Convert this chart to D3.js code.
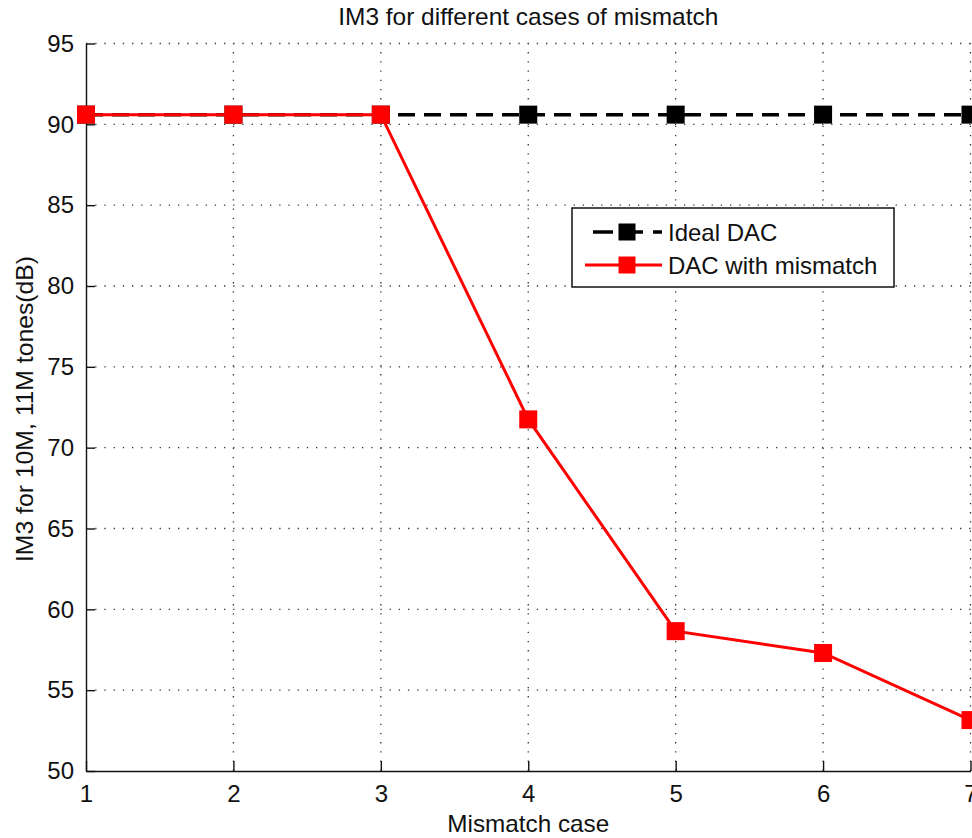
<!DOCTYPE html>
<html><head><meta charset="utf-8">
<script src="https://cdn.jsdelivr.net/npm/d3@7"></script>
<style>
html,body{margin:0;padding:0;background:#fff;}
svg{display:block;}
text{font-family:"Liberation Sans",Arial,sans-serif;fill:#111;}
</style></head>
<body>
<svg id="chart" width="972" height="838"></svg>
<script>
const cases = [1, 2, 3, 4, 5, 6, 7];
const idealDAC = [90.6, 90.6, 90.6, 90.6, 90.6, 90.6, 90.6];
const mismatchDAC = [90.6, 90.6, 90.6, 71.75, 58.65, 57.3, 53.15];
const xTicks = [1, 2, 3, 4, 5, 6, 7];
const yTicks = [50, 55, 60, 65, 70, 75, 80, 85, 90, 95];
const titleText = "IM3 for different cases of mismatch";
const xLabel = "Mismatch case";
const yLabel = "IM3 for 10M, 11M tones(dB)";
const seriesNames = ["Ideal DAC", "DAC with mismatch"];

const svg = d3.select("#chart");
const L = 86, R = 970.5, T = 43.5, B = 771;
const x = d3.scaleLinear().domain([1, 7]).range([L, R]);
const y = d3.scaleLinear().domain([50, 95]).range([B, T]);

// grid
const grid = svg.append("g").attr("stroke", "#333").attr("stroke-width", 1.3).attr("stroke-dasharray", "1.3,7.9");
grid.selectAll(".gx").data(xTicks.filter(d => d !== 1)).enter().append("line")
  .attr("x1", d => x(d)).attr("x2", d => x(d)).attr("y1", B).attr("y2", T);
grid.selectAll(".gy").data(yTicks.filter(d => d !== 50)).enter().append("line")
  .attr("y1", d => y(d)).attr("y2", d => y(d)).attr("x1", L).attr("x2", R + 2);

// axes
const xAxis = d3.axisBottom(x).tickValues(xTicks).tickSizeInner(-10).tickSizeOuter(0).tickPadding(14).tickFormat(d3.format("d"));
const yAxis = d3.axisLeft(y).tickValues(yTicks).tickSizeInner(-9).tickSizeOuter(0).tickPadding(12).tickFormat(d3.format("d"));
const gx = svg.append("g").attr("transform", `translate(0,${B})`).call(xAxis);
const gy = svg.append("g").attr("transform", `translate(${L},0)`).call(yAxis);
[gx, gy].forEach(g => {
  g.select(".domain").attr("stroke", "#111").attr("stroke-width", 1.4);
  g.selectAll(".tick line").attr("stroke", "#111").attr("stroke-width", 1.4);
  g.selectAll(".tick text").attr("font-size", 24).attr("font-family", "Liberation Sans, Arial, sans-serif").attr("fill", "#111");
});
gx.selectAll(".tick text").attr("dy", "0.71em");

// series
const line = d3.line().x(d => x(d[0])).y(d => y(d[1]));
const idealPts = cases.map((c, i) => [c, idealDAC[i]]);
const misPts = cases.map((c, i) => [c, mismatchDAC[i]]);
const ms = 18;

svg.append("path").datum(idealPts).attr("d", line).attr("fill", "none")
  .attr("stroke", "#000").attr("stroke-width", 3.5).attr("stroke-dasharray", "17,9");
svg.append("g").selectAll("rect").data(idealPts).enter().append("rect")
  .attr("x", d => x(d[0]) - ms / 2).attr("y", d => y(d[1]) - ms / 2)
  .attr("width", ms).attr("height", ms).attr("fill", "#000");

svg.append("path").datum(misPts).attr("d", line).attr("fill", "none")
  .attr("stroke", "#ff0000").attr("stroke-width", 3);
svg.append("g").selectAll("rect").data(misPts).enter().append("rect")
  .attr("x", d => x(d[0]) - ms / 2).attr("y", d => y(d[1]) - ms / 2)
  .attr("width", ms).attr("height", ms).attr("fill", "#ff0000");

// title and labels
svg.append("text").attr("x", (L + R) / 2).attr("y", 25).attr("text-anchor", "middle")
  .attr("font-size", 24).attr("textLength", 380).attr("lengthAdjust", "spacingAndGlyphs").text(titleText);
svg.append("text").attr("x", (L + R) / 2).attr("y", 832).attr("text-anchor", "middle")
  .attr("font-size", 24).attr("textLength", 162).attr("lengthAdjust", "spacingAndGlyphs").text(xLabel);
svg.append("text").attr("transform", `translate(33,409) rotate(-90)`).attr("text-anchor", "middle")
  .attr("font-size", 24).attr("textLength", 306).attr("lengthAdjust", "spacingAndGlyphs").text(yLabel);

// legend
const lg = svg.append("g");
lg.append("rect").attr("x", 572).attr("y", 208).attr("width", 322).attr("height", 79)
  .attr("fill", "#fff").attr("stroke", "#111").attr("stroke-width", 1.5);
const rows = [
  {name: seriesNames[0], color: "#000", dash: "20,10", w: 3.5, y: 232, x1: 593},
  {name: seriesNames[1], color: "#ff0000", dash: null, w: 3, y: 265, x1: 585}
];
rows.forEach(r => {
  lg.append("line").attr("x1", r.x1).attr("x2", 662).attr("y1", r.y).attr("y2", r.y)
    .attr("stroke", r.color).attr("stroke-width", r.w).attr("stroke-dasharray", r.dash);
  lg.append("rect").attr("x", 627 - 8.5).attr("y", r.y - 8.5).attr("width", 17).attr("height", 17).attr("fill", r.color);
  lg.append("text").attr("x", 668).attr("y", r.y).attr("dy", "0.36em").attr("font-size", 24).text(r.name);
});
</script>
</body></html>
